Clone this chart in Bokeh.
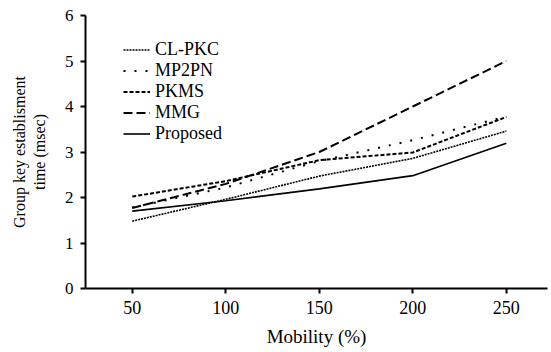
from bokeh.plotting import figure
from bokeh.embed import file_html
from bokeh.resources import INLINE
from bokeh.models import Legend, LegendItem, FixedTicker, Range1d

mobility = [50, 100, 150, 200, 250]
cl_pkc = [1.48, 1.96, 2.47, 2.86, 3.46]
mp2pn = [1.78, 2.22, 2.80, 3.26, 3.78]
pkms = [2.02, 2.36, 2.82, 2.99, 3.77]
mmg = [1.77, 2.30, 3.00, 4.00, 5.00]
proposed = [1.70, 1.93, 2.19, 2.48, 3.19]

x_ticks = [50, 100, 150, 200, 250]
y_ticks = [0, 1, 2, 3, 4, 5, 6]

FONT = "Liberation Serif"

p = figure(width=551, height=352, output_backend="svg", toolbar_location=None,
           x_range=Range1d(25, 272), y_range=Range1d(0, 6),
           min_border_left=85, min_border_top=15, min_border_right=4,
           min_border_bottom=64)
p.outline_line_color = None
p.grid.visible = False
p.background_fill_color = "white"

r1 = p.line(mobility, cl_pkc, line_color="black", line_width=1.6, line_dash="2 1")
r2 = p.line(mobility, mp2pn, line_color="black", line_width=2, line_dash="2 9")
r3 = p.line(mobility, pkms, line_color="black", line_width=2, line_dash="4 2")
r4 = p.line(mobility, mmg, line_color="black", line_width=2, line_dash="9 4")
r5 = p.line(mobility, proposed, line_color="black", line_width=1.6)

for ax in (p.xaxis[0], p.yaxis[0]):
    ax.axis_line_width = 2
    ax.axis_line_color = "black"
    ax.major_tick_line_width = 2
    ax.major_tick_line_color = "black"
    ax.major_tick_out = 5
    ax.major_tick_in = 0
    ax.minor_tick_line_color = None
    ax.major_label_text_font = FONT
    ax.major_label_text_color = "black"
    ax.axis_label_text_font = FONT
    ax.axis_label_text_font_style = "normal"
    ax.axis_label_text_color = "black"

p.xaxis.major_label_text_font_size = "18px"
p.yaxis.major_label_text_font_size = "17px"
p.xaxis.axis_label_text_font_size = "19px"
p.yaxis.axis_label_text_font_size = "16px"

p.xaxis.ticker = FixedTicker(ticks=x_ticks)
p.yaxis.ticker = FixedTicker(ticks=y_ticks)
p.xaxis.axis_label = "Mobility (%)"
p.yaxis.axis_label = "Group key establisment\ntime (msec)"
p.xaxis.major_label_standoff = 7
p.xaxis.axis_label_standoff = 9
p.yaxis.major_label_standoff = 7
p.yaxis.axis_label_standoff = 14

legend = Legend(items=[
    LegendItem(label="CL-PKC", renderers=[r1]),
    LegendItem(label="MP2PN", renderers=[r2]),
    LegendItem(label="PKMS", renderers=[r3]),
    LegendItem(label="MMG", renderers=[r4]),
    LegendItem(label="Proposed", renderers=[r5]),
], location=(38, 144), margin=0, padding=0, spacing=0,
    label_height=21, glyph_height=21, glyph_width=27, label_standoff=5,
    label_text_font=FONT, label_text_font_size="18px", label_text_color="black",
    border_line_color=None, background_fill_alpha=0)
p.add_layout(legend)

open("out.html", "w").write(file_html(p, INLINE))
